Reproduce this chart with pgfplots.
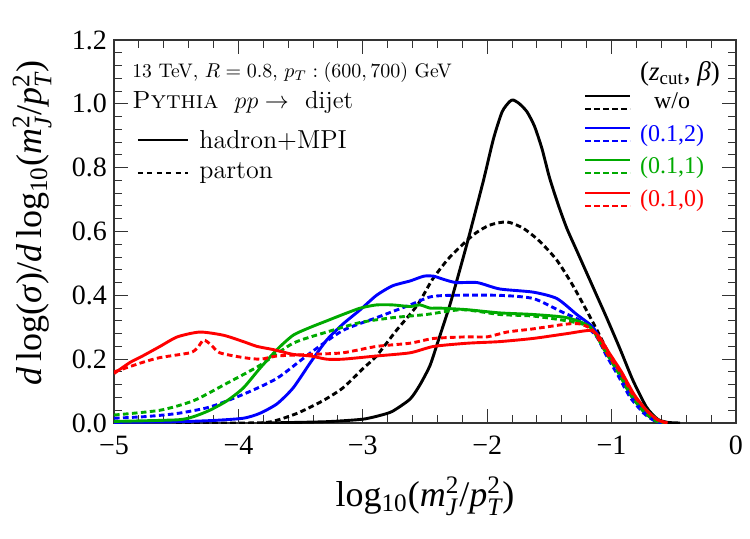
\documentclass[border=0pt]{standalone}
\usepackage{fontspec}
\usepackage{amsmath}
\usepackage{pgfplots}
\pgfplotsset{compat=1.18}
\newfontfamily\timesfont{Liberation Serif}
\definecolor{mblue}{rgb}{0,0,1}
\definecolor{mgreen}{rgb}{0,0.667,0}
\definecolor{mred}{rgb}{1,0,0}
\tikzset{dsh/.style={dash pattern=on 2.8pt off 1.7pt}}
\begin{document}
\begin{tikzpicture}
\useasboundingbox (-57pt,-57.5pt) rectangle (318pt,211.5pt);
\begin{axis}[
  at={(0,0)}, anchor=south west,
  scale only axis, width=311pt, height=191.5pt,
  xmin=-5, xmax=0, ymin=0, ymax=1.2,
  xtick={-5,-4,-3,-2,-1,0},
  xticklabels={−5,−4,−3,−2,−1,0},
  ytick={0,0.2,0.4,0.6,0.8,1.0,1.2},
  yticklabels={0.0,0.2,0.4,0.6,0.8,1.0,1.2},
  minor x tick num=4, minor y tick num=4,
  tick align=inside, xtick pos=both, ytick pos=both,
  xticklabel pos=lower, yticklabel pos=left,
  major tick length=7pt, minor tick length=4pt,
  every tick/.style={black!80, line width=0.5pt},
  axis line style={black!80, line width=0.6pt},
  ticklabel style={font=\timesfont\fontsize{14}{16}\selectfont},
  xticklabel style={yshift=-3pt},
  clip=true,
  every axis plot/.append style={line width=1.45pt, smooth, tension=0.4},
]
% black dashed (parton, w/o)
\addplot[black, dsh] coordinates {
(-4.5,0) (-4.0,0) (-3.75,0.003) (-3.53,0.03) (-3.32,0.07) (-3.16,0.11) (-3.0,0.17) (-2.89,0.21) (-2.73,0.29) (-2.56,0.37) (-2.44,0.45) (-2.30,0.52) (-2.11,0.59) (-1.98,0.62) (-1.84,0.63) (-1.71,0.61) (-1.58,0.57) (-1.44,0.51) (-1.31,0.43) (-1.17,0.33) (-1.09,0.27) (-1.0,0.20) (-0.93,0.16) (-0.83,0.09) (-0.72,0.04) (-0.63,0.01) (-0.55,0)};
% black solid (hadron, w/o)
\addplot[black] coordinates {
(-3.8,0) (-3.3,0.004) (-3.0,0.012) (-2.85,0.025) (-2.76,0.037) (-2.62,0.075) (-2.54,0.12) (-2.46,0.18) (-2.40,0.25) (-2.30,0.37) (-2.22,0.48) (-2.15,0.58) (-2.03,0.76) (-1.95,0.89) (-1.88,0.975) (-1.82,1.007) (-1.79,1.012) (-1.74,1.0) (-1.68,0.975) (-1.62,0.93) (-1.56,0.86) (-1.50,0.77) (-1.43,0.685) (-1.36,0.61) (-1.28,0.54) (-1.20,0.47) (-1.12,0.40) (-1.04,0.33) (-0.93,0.23) (-0.83,0.135) (-0.72,0.05) (-0.63,0.012) (-0.55,0.002) (-0.45,0)};
% blue dashed
\addplot[mblue, dsh] coordinates {
(-5,0.015) (-4.75,0.02) (-4.49,0.03) (-4.23,0.05) (-3.96,0.09) (-3.69,0.14) (-3.42,0.22) (-3.16,0.29) (-2.89,0.33) (-2.62,0.37) (-2.46,0.395) (-2.30,0.40) (-1.90,0.40) (-1.63,0.39) (-1.41,0.35) (-1.25,0.32) (-1.12,0.27) (-1.04,0.21) (-0.95,0.15) (-0.85,0.08) (-0.74,0.03) (-0.66,0.008) (-0.6,0)};
% blue solid
\addplot[mblue] coordinates {
(-5,0.002) (-4.5,0.004) (-4.2,0.008) (-3.96,0.015) (-3.83,0.03) (-3.69,0.06) (-3.56,0.11) (-3.42,0.19) (-3.29,0.26) (-3.16,0.31) (-3.02,0.355) (-2.89,0.40) (-2.76,0.43) (-2.62,0.445) (-2.51,0.46) (-2.43,0.46) (-2.35,0.45) (-2.25,0.44) (-2.08,0.44) (-1.90,0.42) (-1.63,0.41) (-1.44,0.39) (-1.28,0.34) (-1.15,0.30) (-1.06,0.24) (-0.95,0.17) (-0.85,0.09) (-0.74,0.035) (-0.66,0.01) (-0.58,0)};
% green dashed
\addplot[mgreen, dsh] coordinates {
(-5,0.025) (-4.63,0.04) (-4.36,0.07) (-4.09,0.125) (-3.83,0.18) (-3.56,0.25) (-3.29,0.285) (-3.02,0.315) (-2.76,0.33) (-2.49,0.34) (-2.2,0.355) (-1.90,0.34) (-1.63,0.335) (-1.36,0.32) (-1.17,0.30) (-1.06,0.23) (-0.95,0.16) (-0.85,0.09) (-0.74,0.035) (-0.65,0.008) (-0.58,0)};
% green solid
\addplot[mgreen] coordinates {
(-5,0.005) (-4.49,0.01) (-4.36,0.02) (-4.23,0.04) (-4.09,0.07) (-3.96,0.11) (-3.83,0.17) (-3.69,0.23) (-3.56,0.275) (-3.42,0.30) (-3.29,0.32) (-3.16,0.34) (-3.02,0.36) (-2.89,0.37) (-2.76,0.37) (-2.62,0.365) (-2.54,0.37) (-2.46,0.36) (-2.38,0.36) (-2.16,0.355) (-1.90,0.345) (-1.63,0.34) (-1.36,0.33) (-1.17,0.30) (-1.04,0.22) (-0.93,0.16) (-0.83,0.09) (-0.72,0.04) (-0.63,0.01) (-0.57,0)};
% red dashed
\addplot[mred, dsh] coordinates {
(-5,0.16) (-4.77,0.19) (-4.63,0.205) (-4.39,0.22) (-4.33,0.235) (-4.28,0.26) (-4.22,0.245) (-4.15,0.22) (-3.96,0.205) (-3.82,0.20) (-3.69,0.21) (-3.42,0.215) (-3.16,0.22) (-2.89,0.24) (-2.62,0.25) (-2.43,0.265) (-2.16,0.27) (-2.0,0.27) (-1.84,0.285) (-1.63,0.295) (-1.36,0.31) (-1.25,0.31) (-1.15,0.29) (-1.04,0.22) (-0.93,0.16) (-0.83,0.09) (-0.72,0.04) (-0.63,0.01) (-0.55,0)};
% red solid
\addplot[mred] coordinates {
(-5,0.155) (-4.87,0.19) (-4.77,0.21) (-4.63,0.24) (-4.49,0.27) (-4.31,0.285) (-4.12,0.275) (-3.96,0.255) (-3.85,0.24) (-3.72,0.23) (-3.56,0.215) (-3.42,0.21) (-3.29,0.20) (-3.16,0.20) (-2.89,0.21) (-2.62,0.22) (-2.43,0.24) (-2.16,0.25) (-1.90,0.255) (-1.63,0.265) (-1.36,0.28) (-1.17,0.29) (-1.10,0.27) (-1.02,0.22) (-0.92,0.16) (-0.82,0.09) (-0.72,0.04) (-0.63,0.01) (-0.55,0)};
\end{axis}
% axis labels
\node[anchor=base, font=\timesfont\fontsize{18}{20}\selectfont] at (155.5pt,-41.5pt)
  {log$_{\text{10}}$(\textit{m}$^{\text{2}}_{\text{\itshape J}}$/\textit{p}$^{\text{2}}_{\text{\itshape T}}$)};
\node[anchor=base, rotate=90, font=\timesfont\fontsize{18}{20}\selectfont] at (-36pt,100pt)
  {\textit{d}\,log(\textit{σ})/\textit{d}\,log$_{\text{10}}$(\textit{m}$^{\text{2}}_{\text{\itshape J}}$/\textit{p}$^{\text{2}}_{\text{\itshape T}}$)};
% top-left text
\node[anchor=base west, inner sep=0pt, font=\fontsize{9.8}{11}\selectfont] at (9pt,173pt)
  {13 TeV, $R = 0.8$, $p_T : (600,700)$ GeV};
\node[anchor=base west, inner sep=0pt, font=\fontsize{12.4}{14}\selectfont] at (9pt,157.5pt)
  {\textsc{Pythia} \ $pp\to$ \ dijet};
\draw[black, line width=0.7pt] (12pt,141.5pt) -- (37pt,141.5pt);
\node[anchor=base west, inner sep=0pt, font=\fontsize{13}{15}\selectfont] at (42.5pt,137.5pt) {hadron+MPI};
\draw[black, line width=0.7pt, dash pattern=on 2.5pt off 2.2pt] (12pt,125pt) -- (37pt,125pt);
\node[anchor=base west, inner sep=0pt, font=\fontsize{13}{15}\selectfont] at (42.5pt,122.5pt) {parton};
% right legend
\node[anchor=base, inner sep=0pt, font=\timesfont\fontsize{13.5}{15}\selectfont] at (283pt,171.5pt)
  {(\textit{z}$_{\text{cut}}$, \textit{β})};
\draw[black, line width=1.45pt] (235.5pt,163.5pt) -- (258pt,163.5pt);
\draw[black, line width=1.45pt, dsh] (235.5pt,157pt) -- (258pt,157pt);
\node[anchor=base, inner sep=0pt, font=\timesfont\fontsize{12}{14}\selectfont] at (279pt,157.5pt) {w/o};
\draw[mblue, line width=1.45pt] (235.5pt,147.5pt) -- (258pt,147.5pt);
\draw[mblue, line width=1.45pt, dsh] (235.5pt,141pt) -- (258pt,141pt);
\node[anchor=base, inner sep=0pt, text=mblue, font=\timesfont\fontsize{12}{14}\selectfont] at (279pt,141pt) {(0.1,2)};
\draw[mgreen, line width=1.45pt] (235.5pt,131.5pt) -- (258pt,131.5pt);
\draw[mgreen, line width=1.45pt, dsh] (235.5pt,125pt) -- (258pt,125pt);
\node[anchor=base, inner sep=0pt, text=mgreen, font=\timesfont\fontsize{12}{14}\selectfont] at (279pt,124.75pt) {(0.1,1)};
\draw[mred, line width=1.45pt] (235.5pt,115pt) -- (258pt,115pt);
\draw[mred, line width=1.45pt, dsh] (235.5pt,108.5pt) -- (258pt,108.5pt);
\node[anchor=base, inner sep=0pt, text=mred, font=\timesfont\fontsize{12}{14}\selectfont] at (279pt,108.5pt) {(0.1,0)};
\end{tikzpicture}
\end{document}
